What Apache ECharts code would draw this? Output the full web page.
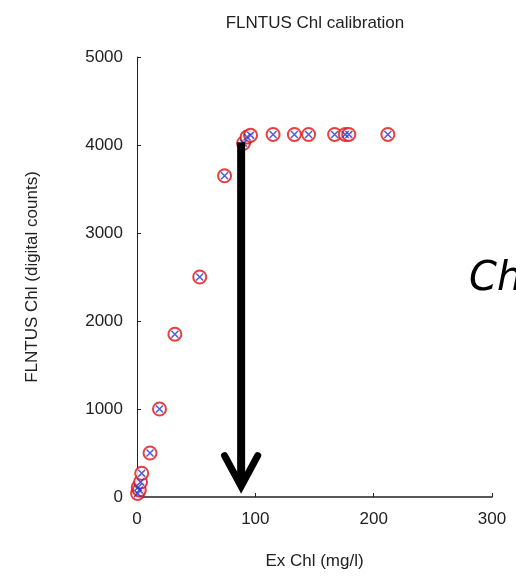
<!DOCTYPE html>
<html><head><meta charset="utf-8">
<script src="https://cdn.jsdelivr.net/npm/echarts@6/dist/echarts.min.js"></script>
<style>html,body{margin:0;padding:0;background:#fff}#c{width:516px;height:579px}</style>
</head><body><div id="c"></div>
<script>
// Ex Chl (mg/l) vs FLNTUS Chl (digital counts)
const exChl = [0.5, 1, 2, 3, 4, 11, 19, 32, 53, 74, 90, 93, 96, 115, 133, 145, 167, 176, 179, 212];
const flntus = [40, 110, 80, 170, 270, 500, 1000, 1850, 2500, 3650, 4020, 4090, 4110, 4120, 4120, 4120, 4120, 4120, 4120, 4120];
const xTicks = [0, 100, 200, 300];
const yTicks = [0, 1000, 2000, 3000, 4000, 5000];
// annotation arrow (data coordinates)
const arrowX = 88;
const arrowTop = 4030;
const arrowTip = 120;
const arrowHeadY = 470;
const arrowHeadHalf = 14;

const pts = exChl.map((x, i) => [x, flntus[i]]);
const chart = echarts.init(document.getElementById('c'));
const font = 'Liberation Sans, Arial, sans-serif';
chart.setOption({
  animation: false,
  title: {text: 'FLNTUS Chl calibration', left: 310, top: 10, textAlign: 'center',
    textStyle: {fontFamily: font, fontSize: 17, fontWeight: 'normal', color: '#222'}},
  grid: {left: 137, right: 24, top: 57, bottom: 82},
  xAxis: {type: 'value', min: xTicks[0], max: xTicks[xTicks.length-1], interval: 100,
    name: 'Ex Chl (mg/l)', nameLocation: 'middle', nameGap: 56,
    nameTextStyle: {fontFamily: font, fontSize: 17, color: '#222'},
    axisLine: {lineStyle: {color: '#222', width: 1.5}},
    axisTick: {inside: true, length: 4, lineStyle: {color: '#222'}},
    axisLabel: {fontFamily: font, fontSize: 17, color: '#222', margin: 14, formatter: v => String(v)},
    splitLine: {show: false}},
  yAxis: {type: 'value', min: yTicks[0], max: yTicks[yTicks.length-1], interval: 1000,
    name: 'FLNTUS Chl (digital counts)', nameLocation: 'middle', nameGap: 96,
    nameTextStyle: {fontFamily: font, fontSize: 17, color: '#222'},
    axisLine: {show: true, lineStyle: {color: '#222', width: 1}},
    axisTick: {show: true, inside: true, length: 4, lineStyle: {color: '#222'}},
    axisLabel: {fontFamily: font, fontSize: 17, color: '#222', margin: 14, formatter: v => String(v)},
    splitLine: {show: false}},
  graphic: [{type: 'text', left: 469, top: 260,
    style: {text: 'Ch', font: 'italic 40px DejaVu Sans', fill: '#000'}}],
  series: [
    {type: 'scatter', data: pts, symbol: 'emptyCircle', symbolSize: 13,
      itemStyle: {color: '#e01010', borderColor: '#e01010', borderWidth: 2}, z: 3},
    {type: 'scatter', data: pts, symbol: 'path://M0,0L10,10M10,0L0,10', symbolSize: 7,
      itemStyle: {color: 'none', borderColor: '#2233cc', borderWidth: 1.5}, z: 4},
    {type: 'line', data: [[arrowX, arrowTop], [arrowX, arrowTip + 60]], symbol: 'none',
      lineStyle: {color: '#000', width: 8}, z: 5},
    {type: 'line', data: [[arrowX - arrowHeadHalf, arrowHeadY], [arrowX, arrowTip], [arrowX + arrowHeadHalf, arrowHeadY]],
      symbol: 'none', lineStyle: {color: '#000', width: 7, cap: 'round', join: 'miter'}, z: 5}
  ]
});
</script></body></html>
